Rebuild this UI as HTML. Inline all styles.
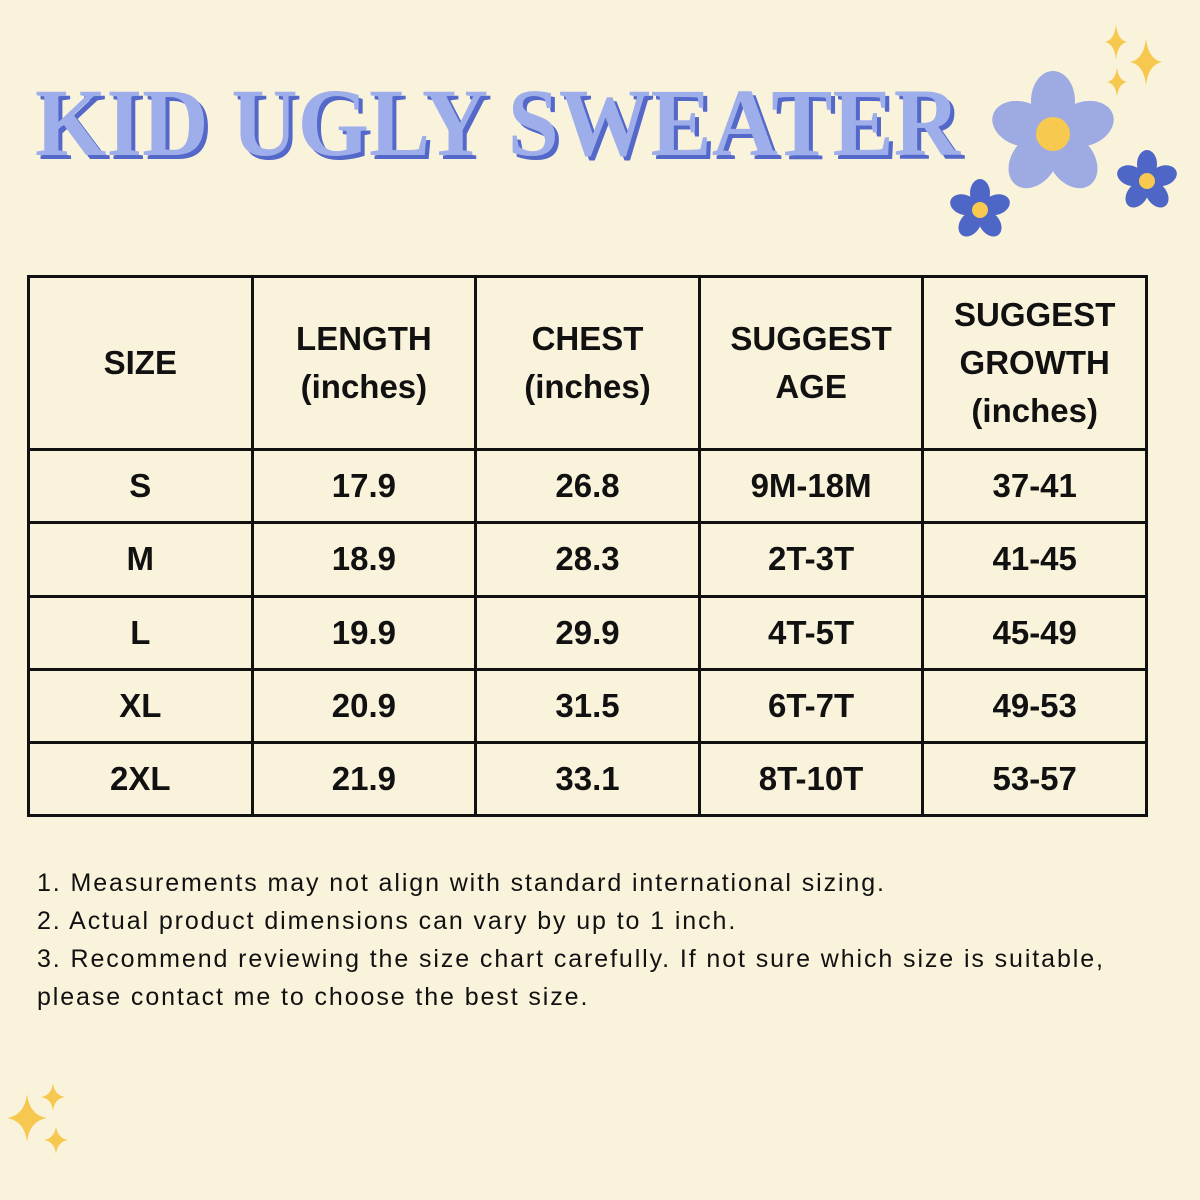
<!DOCTYPE html>
<html><head><style>
body{margin:0;width:1200px;height:1200px;background:#faf3dc;position:relative;overflow:hidden;font-family:"Liberation Sans",sans-serif}
table{position:absolute;left:27px;top:275px;border-collapse:collapse;table-layout:fixed;width:1121px}
td{border:3px solid #111;text-align:center;font-weight:bold;font-size:33px;color:#111;padding:0;height:70.3px}
tr.h td{height:170px;line-height:48px}
.notes{position:absolute;left:37px;top:864px;font-size:25px;line-height:38px;color:#111;letter-spacing:1.9px;white-space:nowrap}
</style></head><body>
<svg width="1200" height="1200" style="position:absolute;left:0;top:0">
<defs><path id="sp" d="M0,-1 Q0.12,-0.12 1,0 Q0.12,0.12 0,1 Q-0.12,0.12 -1,0 Q-0.12,-0.12 0,-1Z"/></defs>
<text x="39" y="159" font-family="Liberation Serif" font-weight="bold" font-size="96" fill="#5468c9" textLength="925" lengthAdjust="spacingAndGlyphs">KID UGLY SWEATER</text>
<text x="35" y="155" font-family="Liberation Serif" font-weight="bold" font-size="96" fill="#9eaeea" textLength="925" lengthAdjust="spacingAndGlyphs">KID UGLY SWEATER</text>
<g fill="#f6c84f">
<use href="#sp" transform="translate(1116,42) scale(11,18)"/>
<use href="#sp" transform="translate(1146,62) scale(16,24)"/>
<use href="#sp" transform="translate(1117,82) scale(10,15)"/>
<use href="#sp" transform="translate(27,1118) scale(20,24)"/>
<use href="#sp" transform="translate(53,1097) scale(12,14)"/>
<use href="#sp" transform="translate(56,1140) scale(12,14)"/>
</g>
<g transform="translate(1053,134)" fill="#9eaae2">
<ellipse cx="0" cy="-33" rx="22" ry="30"/>
<ellipse cx="0" cy="-33" rx="22" ry="30" transform="rotate(72)"/>
<ellipse cx="0" cy="-33" rx="22" ry="30" transform="rotate(144)"/>
<ellipse cx="0" cy="-33" rx="22" ry="30" transform="rotate(216)"/>
<ellipse cx="0" cy="-33" rx="22" ry="30" transform="rotate(288)"/>
<circle r="17" fill="#f7c94f"/>
</g>
<g transform="translate(980,210)" fill="#4e66c6">
<ellipse cx="0" cy="-17" rx="10" ry="14"/>
<ellipse cx="0" cy="-17" rx="10" ry="14" transform="rotate(72)"/>
<ellipse cx="0" cy="-17" rx="10" ry="14" transform="rotate(144)"/>
<ellipse cx="0" cy="-17" rx="10" ry="14" transform="rotate(216)"/>
<ellipse cx="0" cy="-17" rx="10" ry="14" transform="rotate(288)"/>
<circle r="8" fill="#f7c94f"/>
</g>
<g transform="translate(1147,181)" fill="#4e66c6">
<ellipse cx="0" cy="-17" rx="10" ry="14"/>
<ellipse cx="0" cy="-17" rx="10" ry="14" transform="rotate(72)"/>
<ellipse cx="0" cy="-17" rx="10" ry="14" transform="rotate(144)"/>
<ellipse cx="0" cy="-17" rx="10" ry="14" transform="rotate(216)"/>
<ellipse cx="0" cy="-17" rx="10" ry="14" transform="rotate(288)"/>
<circle r="8" fill="#f7c94f"/>
</g>
</svg>
<table>
<tr class="h"><td>SIZE</td><td>LENGTH<br>(inches)</td><td>CHEST<br>(inches)</td><td>SUGGEST<br>AGE</td><td>SUGGEST<br>GROWTH<br>(inches)</td></tr>
<tr><td>S</td><td>17.9</td><td>26.8</td><td>9M-18M</td><td>37-41</td></tr>
<tr><td>M</td><td>18.9</td><td>28.3</td><td>2T-3T</td><td>41-45</td></tr>
<tr><td>L</td><td>19.9</td><td>29.9</td><td>4T-5T</td><td>45-49</td></tr>
<tr><td>XL</td><td>20.9</td><td>31.5</td><td>6T-7T</td><td>49-53</td></tr>
<tr><td>2XL</td><td>21.9</td><td>33.1</td><td>8T-10T</td><td>53-57</td></tr>
</table>
<div class="notes">1. Measurements may not align with standard international sizing.<br>2. Actual product dimensions can vary by up to 1 inch.<br>3. Recommend reviewing the size chart carefully. If not sure which size is suitable,<br>please contact me to choose the best size.</div>
</body></html>
